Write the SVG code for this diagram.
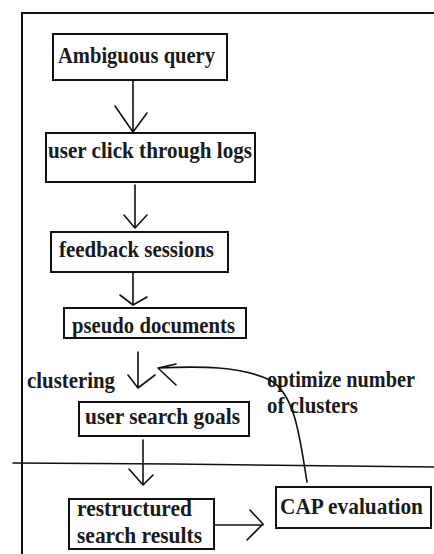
<svg xmlns="http://www.w3.org/2000/svg" width="434" height="554" viewBox="0 0 434 554">
<style>
.box{fill:#fff;stroke:#111;stroke-width:2}
.t{font-family:"Liberation Serif","Times New Roman",serif;font-weight:bold;font-size:24px;fill:#1a1a1a}
.ln{fill:none;stroke:#111;stroke-width:1.6;stroke-linecap:round;stroke-linejoin:round}
.frame{fill:none;stroke:#111;stroke-width:2}
</style>
<rect width="434" height="554" fill="#fff"/>
<g id="frame">
<polyline class="frame" points="22,554 22,13 434,13"/>
<polyline class="ln" points="13,463 173,464 434,467"/>
</g>
<g id="n-ambiguous">
<rect class="box" x="53" y="34" width="174" height="46"/>
<text class="t" x="58" y="63" textLength="157" lengthAdjust="spacingAndGlyphs">Ambiguous query</text>
</g>
<g id="n-logs">
<rect class="box" x="46" y="133" width="209" height="49"/>
<text class="t" x="48" y="158" textLength="204" lengthAdjust="spacingAndGlyphs">user click through logs</text>
</g>
<g id="n-feedback">
<rect class="box" x="51" y="232" width="177" height="40"/>
<text class="t" x="59" y="257" textLength="155" lengthAdjust="spacingAndGlyphs">feedback sessions</text>
</g>
<g id="n-pseudo">
<rect class="box" x="64" y="308" width="182" height="30"/>
<text class="t" x="72" y="333" textLength="163" lengthAdjust="spacingAndGlyphs">pseudo documents</text>
</g>
<g id="n-goals">
<rect class="box" x="79" y="402" width="170" height="34"/>
<text class="t" x="85" y="424" textLength="155" lengthAdjust="spacingAndGlyphs">user search goals</text>
</g>
<g id="n-restructured">
<rect class="box" x="69" y="499" width="145" height="50"/>
<text class="t" x="77" y="516" textLength="115" lengthAdjust="spacingAndGlyphs">restructured</text>
<text class="t" x="77" y="543" textLength="125" lengthAdjust="spacingAndGlyphs">search results</text>
</g>
<g id="n-cap">
<rect class="box" x="276" y="487" width="155" height="41"/>
<text class="t" x="280" y="514" textLength="143" lengthAdjust="spacingAndGlyphs">CAP evaluation</text>
</g>
<g id="labels">
<text class="t" x="27" y="388" textLength="88" lengthAdjust="spacingAndGlyphs">clustering</text>
<text class="t" x="267" y="387" textLength="148" lengthAdjust="spacingAndGlyphs">optimize number</text>
<text class="t" x="267" y="413" textLength="91" lengthAdjust="spacingAndGlyphs">of clusters</text>
</g>
<g id="connectors">
<path class="ln" d="M133,81 V132 M115,106 L133,132 L147,113"/>
<path class="ln" d="M135,185 V228 M124,215 L135,228 L147,215"/>
<path class="ln" d="M133,273 V305 M120,295 L133,305 L147,297"/>
<path class="ln" d="M138,352 V388 M128,375 L138,388 L155,375"/>
<path class="ln" d="M143,440 V485 M129,469 L143,485 L153,475"/>
<path class="ln" d="M214,525 H263 M250,510 L263,524 L247,540"/>
<path class="ln" d="M307,482 C300,440 296,395 270,380 C240,366 200,366 158,368 M176,385 L158,368 L176,364"/>
</g>
</svg>
